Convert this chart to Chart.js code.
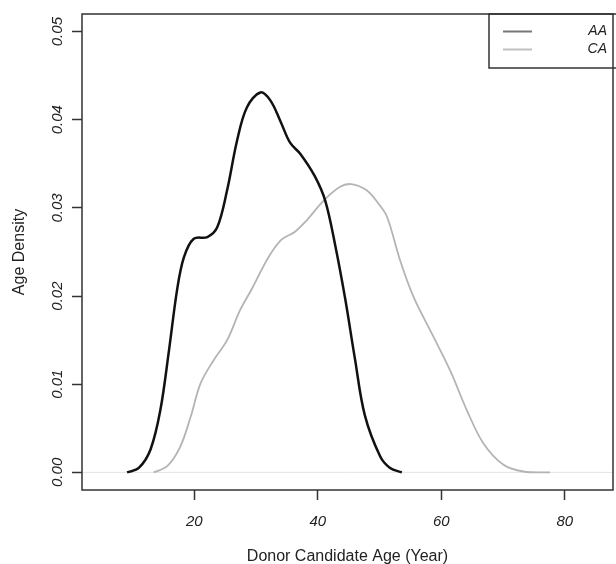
<!DOCTYPE html>
<html>
<head>
<meta charset="utf-8">
<script src="https://cdn.jsdelivr.net/npm/chart.js@4/dist/chart.umd.min.js"></script>
<style>
  html, body { margin: 0; padding: 0; background: #fff; }
  #wrap { width: 616px; height: 564px; }
</style>
</head>
<body>
<div id="wrap"><canvas id="densityChart" width="616" height="564"></canvas></div>
<script>
// density curves
const aaAge = [9.1, 11.0, 12.9, 14.5, 15.9, 17.2, 18.3, 19.9, 22.1, 23.7, 25.3, 26.9, 28.5, 30.7, 32.3, 33.9, 35.5, 37.2, 39.5, 41.2, 42.8, 44.4, 46.0, 47.6, 50.1, 51.7, 53.6];
const aaDensity = [0.0000, 0.0005, 0.0026, 0.0071, 0.0139, 0.0207, 0.0244, 0.0265, 0.0267, 0.0278, 0.0320, 0.0376, 0.0414, 0.0431, 0.0422, 0.0399, 0.0374, 0.0361, 0.0336, 0.0308, 0.0258, 0.0198, 0.0129, 0.0065, 0.0018, 0.0005, 0.0000];

const caAge = [13.4, 15.6, 17.7, 19.4, 21.0, 23.1, 25.3, 27.4, 29.3, 32.0, 34.1, 36.3, 38.2, 40.9, 43.6, 45.4, 47.9, 49.8, 51.2, 53.3, 55.5, 58.2, 61.4, 64.1, 66.8, 70.0, 73.3, 77.6];
const caDensity = [0.0000, 0.0007, 0.0029, 0.0063, 0.0101, 0.0127, 0.0150, 0.0184, 0.0208, 0.0244, 0.0264, 0.0273, 0.0286, 0.0308, 0.0324, 0.0327, 0.0320, 0.0305, 0.0290, 0.0241, 0.0199, 0.0161, 0.0116, 0.0071, 0.0033, 0.0009, 0.0001, 0.0000];

const seriesNames = ['AA', 'CA'];
const xTicks = [20, 40, 60, 80];
const yTicks = [0, 0.01, 0.02, 0.03, 0.04, 0.05];

function toPoints(xs, ys) {
    return xs.map((x, i) => ({ x: x, y: ys[i] }));
}

const tickFont = { family: "'Liberation Sans', Arial, sans-serif", size: 15, style: 'italic' };
const titleFont = { family: "'Liberation Sans', Arial, sans-serif", size: 16 };

// box around the plot, zero line and the R style legend
const boxPlugin = {
    id: 'boxPlugin',
    beforeDatasetsDraw(chart) {
        const { ctx, chartArea: a, scales } = chart;
        const y0 = scales.y.getPixelForValue(0);
        ctx.save();
        ctx.strokeStyle = '#e4e4e4';
        ctx.lineWidth = 1;
        ctx.beginPath();
        ctx.moveTo(a.left, y0);
        ctx.lineTo(a.right, y0);
        ctx.stroke();
        ctx.restore();
    },
    afterDraw(chart) {
        const { ctx, chartArea: a } = chart;
        ctx.save();
        ctx.strokeStyle = '#333';
        ctx.lineWidth = 1.5;
        ctx.strokeRect(a.left, a.top, a.right - a.left, a.bottom - a.top);

        // legend
        ctx.strokeRect(489, a.top, 200, 54);
        const legendColors = ['#777', '#c0c0c0'];
        const rows = [31.5, 49.5];
        ctx.font = "italic 14px 'Liberation Sans', Arial, sans-serif";
        ctx.textAlign = 'right';
        ctx.textBaseline = 'middle';
        seriesNames.forEach((name, i) => {
            ctx.strokeStyle = legendColors[i];
            ctx.lineWidth = 2;
            ctx.beginPath();
            ctx.moveTo(503, rows[i]);
            ctx.lineTo(532, rows[i]);
            ctx.stroke();
            ctx.fillStyle = '#222';
            ctx.fillText(name, 607, rows[i]);
        });
        ctx.restore();
    }
};

const ctx = document.getElementById('densityChart').getContext('2d');
const densityChart = new Chart(ctx, {
    type: 'scatter',
    data: {
        datasets: [{
            label: seriesNames[0],
            data: toPoints(aaAge, aaDensity),
            showLine: true,
            borderColor: '#111',
            borderWidth: 2.5,
            pointRadius: 0,
            tension: 0.35
        }, {
            label: seriesNames[1],
            data: toPoints(caAge, caDensity),
            showLine: true,
            borderColor: '#b4b4b4',
            borderWidth: 1.8,
            pointRadius: 0,
            tension: 0.35
        }]
    },
    options: {
        responsive: false,
        animation: false,
        layout: { padding: { top: 14, right: 3, left: 0, bottom: 0 } },
        plugins: {
            legend: { display: false },
            tooltip: { enabled: false }
        },
        scales: {
            x: {
                type: 'linear',
                min: 1.8,
                max: 87.8,
                afterBuildTicks: scale => { scale.ticks = xTicks.map(v => ({ value: v })); },
                afterFit: scale => { scale.height = 74; },
                grid: { drawOnChartArea: false, drawTicks: true, tickLength: 10, tickColor: '#333', tickWidth: 1.5 },
                border: { display: false },
                ticks: { font: tickFont, color: '#222', padding: 13, maxRotation: 0 },
                title: { display: true, text: 'Donor Candidate Age (Year)', font: titleFont, color: '#222', padding: { top: 0, bottom: -2 } }
            },
            y: {
                min: -0.002,
                max: 0.052,
                afterBuildTicks: scale => { scale.ticks = yTicks.map(v => ({ value: v })); },
                afterFit: scale => { scale.width = 82; },
                grid: { drawOnChartArea: false, drawTicks: true, tickLength: 10, tickColor: '#333', tickWidth: 1.5 },
                border: { display: false },
                ticks: {
                    font: tickFont, color: '#222', padding: 0,
                    minRotation: 90, maxRotation: 90, crossAlign: 'center',
                    callback: v => v.toFixed(2)
                },
                title: { display: true, text: 'Age Density', font: titleFont, color: '#222', padding: { top: 10, bottom: 0 } }
            }
        }
    },
    plugins: [boxPlugin]
});
</script>
</body>
</html>
